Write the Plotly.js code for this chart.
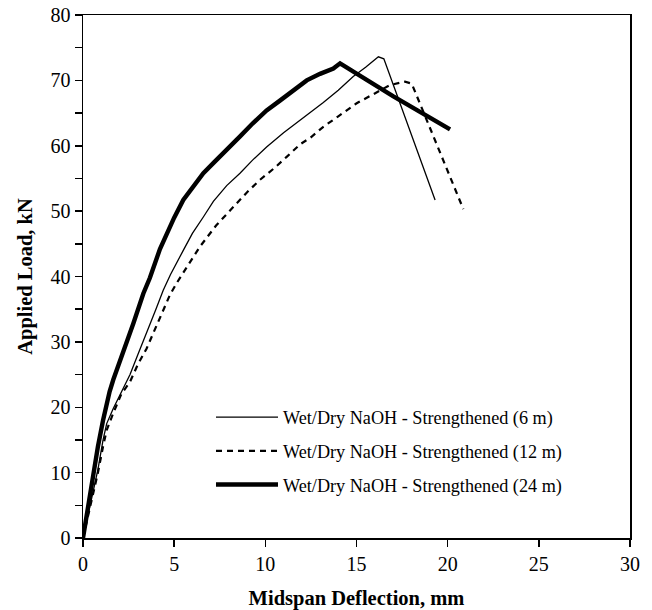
<!DOCTYPE html>
<html>
<head>
<meta charset="utf-8">
<script src="https://cdn.plot.ly/plotly-3.0.1.min.js"></script>
<style>html,body{margin:0;padding:0;background:#fff;}</style>
</head>
<body>
<div id="chart" style="width:652px;height:610px;"></div>
<script>
// Series names
const names = [
  "Wet/Dry NaOH - Strengthened (6 m)",
  "Wet/Dry NaOH - Strengthened (12 m)",
  "Wet/Dry NaOH - Strengthened (24 m)"
];

// 6 m (thin solid)
const x6 = [0,0.46,0.82,1.1,1.3,1.66,2.1,2.58,3.0,3.49,4.0,4.4,4.8,5.5,6.0,6.6,7.15,7.88,8.61,9.3,10.07,11.0,11.9,12.5,13.18,14.0,14.82,15.5,16.2,16.5,19.31];
const y6 = [0,5.8,10.5,15.0,17.5,19.8,22.4,25.0,28.0,31.3,35.0,37.9,40.3,44.0,46.6,49.1,51.5,53.9,55.8,57.8,59.8,62.0,63.9,65.2,66.6,68.5,70.6,72.0,73.6,73.3,51.7];

// 12 m (dashed)
const x12 = [0,0.46,0.82,1.1,1.3,1.66,2.1,2.58,3.0,3.49,4.0,4.4,4.77,5.14,5.87,6.42,7.3,8.24,9.0,9.71,10.5,11.17,11.9,12.5,13.18,14.0,15.01,16.0,16.84,17.66,18.03,20.86];
const y12 = [0,5.5,10.0,14.0,16.5,19.1,22.0,23.9,26.5,29.0,32.2,34.9,37.2,39.0,42.2,44.6,47.8,50.7,52.9,54.8,56.6,58.3,60.2,61.3,62.9,64.5,66.5,68.0,69.3,69.8,69.5,50.3];

// 24 m (thick solid)
const x24 = [0,0.27,0.55,0.82,1.1,1.3,1.46,1.66,1.95,2.21,2.76,3.31,3.67,4.22,4.59,5.0,5.5,6.0,6.6,7.2,7.88,8.6,9.3,10.07,10.8,11.5,12.27,13.0,13.73,14.1,17.0,20.13];
const y24 = [0,4.8,8.9,14.0,18.0,20.6,22.4,24.2,26.4,28.4,32.8,37.4,39.8,44.2,46.6,49.0,51.7,53.6,55.8,57.5,59.5,61.4,63.4,65.4,66.9,68.3,70.0,71.0,71.8,72.6,67.6,62.5];

const serif = "Liberation Serif, Times New Roman, serif";

const traces = [
  {x: x6, y: y6, name: names[0], mode: "lines", legendgroup: "a",
   line: {color: "#000", width: 1.3}},
  {x: x12, y: y12, name: names[1], mode: "lines", legendgroup: "b",
   line: {color: "#000", width: 2.2, dash: "6px,5px"}},
  {x: x24, y: y24, name: names[2], mode: "lines", legendgroup: "c",
   line: {color: "#000", width: 4.4}}
];

const layout = {
  width: 652, height: 610,
  margin: {l: 83, r: 22, t: 15, b: 72},
  paper_bgcolor: "#fff", plot_bgcolor: "#fff",
  font: {family: serif, color: "#000", size: 20},
  showlegend: true,
  legend: {
    x: 0.234, y: 0.266, xanchor: "left", yanchor: "top",
    bgcolor: "rgba(0,0,0,0)", borderwidth: 0,
    font: {family: serif, size: 18.2, color: "#000"},
    traceorder: "grouped", tracegroupgap: 7, itemwidth: 62
  },
  xaxis: {
    range: [0, 30], dtick: 5, tick0: 0,
    showgrid: false, zeroline: false,
    showline: true, linecolor: "#000", linewidth: 1.5, mirror: true,
    ticks: "outside", ticklen: 7, tickwidth: 1.5, tickcolor: "#000",
    tickfont: {family: serif, size: 20},
    title: {text: "Midspan Deflection, mm", font: {family: serif, size: 20.5, weight: "bold"}}
  },
  yaxis: {
    range: [0, 80], dtick: 10, tick0: 0,
    showgrid: false, zeroline: false,
    showline: true, linecolor: "#000", linewidth: 1.5, mirror: true,
    ticks: "outside", ticklen: 7, tickwidth: 1.5, tickcolor: "#000",
    minor: {dtick: 5, ticks: "outside", ticklen: 7, tickwidth: 1.5, tickcolor: "#000", showgrid: false},
    tickfont: {family: serif, size: 20},
    title: {text: "Applied Load, kN", font: {family: serif, size: 20.5, weight: "bold"}}
  }
};

Plotly.newPlot("chart", traces, layout, {staticPlot: true, displayModeBar: false});
</script>
</body>
</html>
